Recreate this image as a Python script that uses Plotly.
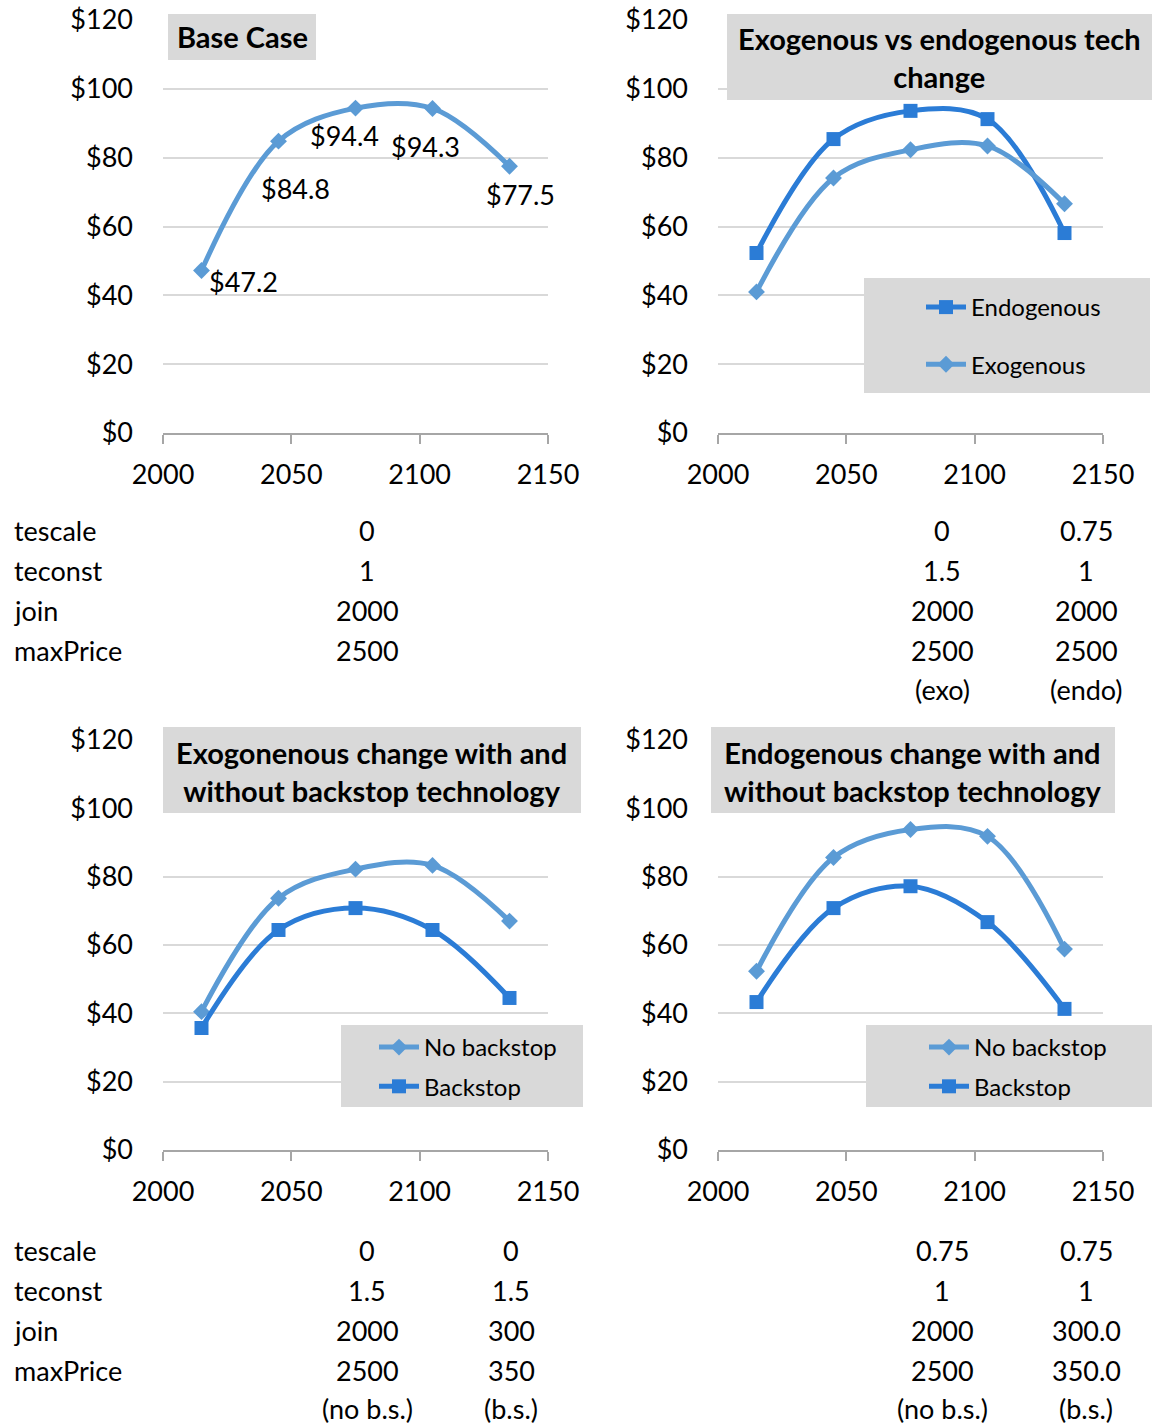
import plotly.graph_objects as go

# ---------------- data ----------------
years = [2015, 2045, 2075, 2105, 2135]
base_case = [47.2, 84.8, 94.4, 94.3, 77.5]
endogenous = [52.3, 85.4, 93.6, 91.2, 58.1]
exogenous = [41.0, 74.1, 82.3, 83.4, 66.6]
exo_no_backstop = [40.5, 73.7, 82.2, 83.3, 67.0]
exo_backstop = [35.7, 64.4, 70.8, 64.4, 44.5]
endo_no_backstop = [52.3, 85.6, 93.8, 91.8, 58.8]
endo_backstop = [43.3, 70.8, 77.2, 66.7, 41.3]

y_ticks = [0, 20, 40, 60, 80, 100, 120]
y_tick_labels = ["$0", "$20", "$40", "$60", "$80", "$100", "$120"]
x_ticks = [2000, 2050, 2100, 2150]

row_labels = ["tescale", "teconst", "join", "maxPrice"]
tbl_base = ["0", "1", "2000", "2500"]
tbl_tr_exo = ["0", "1.5", "2000", "2500", "(exo)"]
tbl_tr_endo = ["0.75", "1", "2000", "2500", "(endo)"]
tbl_bl_nobs = ["0", "1.5", "2000", "2500", "(no b.s.)"]
tbl_bl_bs = ["0", "1.5", "300", "350", "(b.s.)"]
tbl_br_nobs = ["0.75", "1", "2000", "2500", "(no b.s.)"]
tbl_br_bs = ["0.75", "1", "300.0", "350.0", "(b.s.)"]

titles = ["Base Case", "Exogenous vs endogenous tech<br>change",
          "Exogonenous change with and<br>without backstop technology",
          "Endogenous change with and<br>without backstop technology"]

# ---------------- style ----------------
W, H = 1152, 1425
LIGHT = "#5B9BD5"
DARK = "#2B7CD6"
GRAY_BOX = "#D9D9D9"
FONT = "Lato, 'Open Sans', sans-serif"

def px(x):
    return x / W

def py(y):
    return 1 - y / H

fig = go.Figure()

def light_trace(x, y, name, xa, ya, legend, show=True):
    return go.Scatter(x=x, y=y, name=name, xaxis=xa, yaxis=ya, legend=legend,
                      mode="lines+markers", line=dict(color=LIGHT, width=5, shape="spline"),
                      marker=dict(symbol="diamond", size=13, color=LIGHT),
                      showlegend=show, legendgroup=name + legend)

def dark_trace(x, y, name, xa, ya, legend, show=True):
    return go.Scatter(x=x, y=y, name=name, xaxis=xa, yaxis=ya, legend=legend,
                      mode="lines+markers", line=dict(color=DARK, width=5, shape="spline"),
                      marker=dict(symbol="square", size=14, color=DARK),
                      showlegend=show, legendgroup=name + legend)

# panel 1
fig.add_trace(light_trace(years, base_case, "Base Case", "x", "y", "legend", show=False))
# panel 2
fig.add_trace(dark_trace(years, endogenous, "Endogenous", "x2", "y2", "legend"))
fig.add_trace(light_trace(years, exogenous, "Exogenous", "x2", "y2", "legend"))
# panel 3
fig.add_trace(light_trace(years, exo_no_backstop, "No backstop", "x3", "y3", "legend2"))
fig.add_trace(dark_trace(years, exo_backstop, "Backstop", "x3", "y3", "legend2"))
# panel 4
fig.add_trace(light_trace(years, endo_no_backstop, "No backstop", "x4", "y4", "legend3"))
fig.add_trace(dark_trace(years, endo_backstop, "Backstop", "x4", "y4", "legend3"))

left_dom = [px(163), px(548)]
right_dom = [px(718), px(1103)]
top_dom = [py(433), py(20)]
bot_dom = [py(1150), py(740)]

xcommon = dict(range=[2000, 2150], tickmode="array", tickvals=x_ticks, showgrid=False, zeroline=False,
               showline=True, linecolor="#A6A6A6", linewidth=1.5,
               ticks="outside", ticklen=9, tickcolor="#A6A6A6", tickwidth=1.5,
               tickfont=dict(family=FONT, size=27, color="black"), ticklabelstandoff=8,
               ticklabeloverflow="allow", fixedrange=True, automargin=False)
ycommon = dict(range=[0, 120], tickmode="array", tickvals=y_ticks, ticktext=y_tick_labels,
               showgrid=True, gridcolor="#D9D9D9", gridwidth=1.5, zeroline=False, showline=False,
               tickfont=dict(family=FONT, size=27, color="black"), ticklabelstandoff=29,
               ticklabeloverflow="allow", fixedrange=True, automargin=False)

fig.update_layout(
    xaxis=dict(domain=left_dom, anchor="y", **xcommon),
    yaxis=dict(domain=top_dom, anchor="x", **ycommon),
    xaxis2=dict(domain=right_dom, anchor="y2", **xcommon),
    yaxis2=dict(domain=top_dom, anchor="x2", **ycommon),
    xaxis3=dict(domain=left_dom, anchor="y3", **xcommon),
    yaxis3=dict(domain=bot_dom, anchor="x3", **ycommon),
    xaxis4=dict(domain=right_dom, anchor="y4", **xcommon),
    yaxis4=dict(domain=bot_dom, anchor="x4", **ycommon),
)

# ---------- boxes (titles & legend backgrounds) ----------
boxes = [(168, 14, 316, 60), (727, 14, 1152, 100), (163, 727, 581, 813), (711, 727, 1115, 813),
         (864, 278, 1150, 393), (341, 1025, 583, 1107), (866, 1025, 1152, 1107)]
for x0, y0, x1, y1 in boxes:
    fig.add_shape(type="rect", xref="paper", yref="paper", x0=px(x0), x1=px(x1),
                  y0=py(y1), y1=py(y0), fillcolor=GRAY_BOX, line=dict(width=0), layer="above")

title_pos = [(242, 37), (939, 57), (371, 771), (912, 771)]
for t, (cx, cy) in zip(titles, title_pos):
    fig.add_annotation(text="<b>" + t + "</b>", xref="paper", yref="paper", x=px(cx), y=py(cy),
                       xanchor="center", yanchor="middle", showarrow=False,
                       font=dict(family=FONT, size=29, color="black"))

# ---------- data labels on base case ----------
label_shifts = [(42, -11), (17, -47), (-11, -27), (-7, -38), (11, -28)]
for xv, yv, (dx, dy) in zip(years, base_case, label_shifts):
    fig.add_annotation(text="$" + f"{yv:.1f}", x=xv, y=yv, xref="x", yref="y",
                       xshift=dx, yshift=dy, showarrow=False,
                       font=dict(family=FONT, size=27, color="black"))

# ---------- parameter tables ----------
top_rows = [530, 570, 610, 650, 690]
bot_rows = [1250, 1290, 1330, 1370, 1408]

def add_col(values, cx, rows, anchor="center"):
    for v, r in zip(values, rows):
        fig.add_annotation(text=v, xref="paper", yref="paper", x=px(cx), y=py(r),
                           xanchor=anchor, yanchor="middle", showarrow=False,
                           font=dict(family=FONT, size=27, color="black"))

add_col(row_labels, 12, top_rows, "left")
add_col(row_labels, 12, bot_rows, "left")
add_col(tbl_base, 367, top_rows)
add_col(tbl_tr_exo, 942, top_rows)
add_col(tbl_tr_endo, 1086, top_rows)
add_col(tbl_bl_nobs, 367, bot_rows)
add_col(tbl_bl_bs, 511, bot_rows)
add_col(tbl_br_nobs, 942, bot_rows)
add_col(tbl_br_bs, 1086, bot_rows)

legend_common = dict(bgcolor="rgba(0,0,0,0)", borderwidth=0, xanchor="left", yanchor="top",
                     font=dict(family=FONT, size=24, color="black"), traceorder="grouped",
                     itemwidth=40)
fig.update_layout(
    legend=dict(x=px(921), y=py(285), tracegroupgap=23, **legend_common),
    legend2=dict(x=px(374), y=py(1025), tracegroupgap=5, **legend_common),
    legend3=dict(x=px(924), y=py(1025), tracegroupgap=5, **legend_common),
)

fig.update_layout(width=W, height=H, autosize=False,
                  margin=dict(l=0, r=0, t=0, b=0, pad=0, autoexpand=False),
                  paper_bgcolor="white", plot_bgcolor="white",
                  font=dict(family=FONT, color="black"))

# remove the default 8px page margin so the figure fills the window exactly
fig.write_html("out.html", config={"displayModeBar": False},
               post_script="document.body.style.margin='0';")
